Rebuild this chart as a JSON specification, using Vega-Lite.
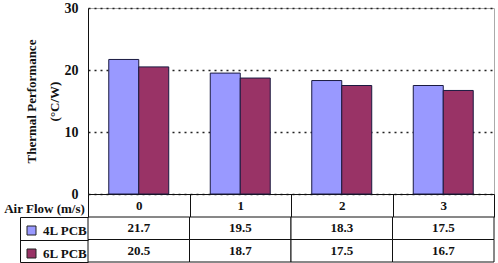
{
  "$schema": "https://vega.github.io/schema/vega-lite/v6.json",
  "autosize": {"type": "pad"},
  "padding": {"left": 3, "top": 0, "right": 3, "bottom": 1},
  "background": "white",
  "bounds": "flush",
  "spacing": 23,
  "config": {
    "font": "Liberation Serif",
    "view": {"stroke": null},
    "axis": {"labelFont": "Liberation Serif", "titleFont": "Liberation Serif", "labelFontWeight": "bold", "titleFontWeight": "bold", "labelColor": "#111", "titleColor": "#111"},
    "legend": {"labelFont": "Liberation Serif", "labelFontWeight": "bold"}
  },
  "datasets": {
    "thermal": [
      {"flow": "0", "pcb": "4L PCB", "value": 21.7},
      {"flow": "1", "pcb": "4L PCB", "value": 19.5},
      {"flow": "2", "pcb": "4L PCB", "value": 18.3},
      {"flow": "3", "pcb": "4L PCB", "value": 17.5},
      {"flow": "0", "pcb": "6L PCB", "value": 20.5},
      {"flow": "1", "pcb": "6L PCB", "value": 18.7},
      {"flow": "2", "pcb": "6L PCB", "value": 17.5},
      {"flow": "3", "pcb": "6L PCB", "value": 16.7}
    ]
  },
  "vconcat": [
    {
      "width": 406,
      "height": 186,
      "data": {"name": "thermal"},
      "view": {"stroke": "#aaa"},
      "mark": {"type": "bar", "stroke": "#1a1a40", "strokeWidth": 1},
      "encoding": {
        "x": {
          "field": "flow", "type": "nominal",
          "scale": {"paddingInner": 0, "paddingOuter": 0},
          "axis": {"title": "Air Flow (m/s)", "labelAngle": 0, "labelFontSize": 13, "labelPadding": -18, "domainColor": "#111", "tickColor": "#111", "tickBand": "extent", "tickSize": 23, "titleFontSize": 13, "titleX": -44, "titleY": 14, "titleAlign": "center", "titleBaseline": "middle", "titleAngle": 0}
        },
        "xOffset": {"field": "pcb", "type": "nominal", "scale": {"paddingInner": 0, "paddingOuter": 0.692}},
        "y": {
          "field": "value", "type": "quantitative",
          "scale": {"domain": [0, 30], "nice": false},
          "axis": {"title": ["Thermal Performance", "(°C/W)"], "values": [0, 10, 20, 30], "labelFontSize": 14, "ticks": false, "labelPadding": 10, "domainColor": "#111", "grid": true, "gridColor": "#222", "gridDash": [2, 4], "gridWidth": 1.5, "titleFontSize": 13, "titleLineHeight": 23, "titlePadding": 3}
        },
        "color": {
          "field": "pcb", "type": "nominal",
          "scale": {"domain": ["4L PCB", "6L PCB"], "range": ["#9999ff", "#993366"]},
          "legend": {"title": null, "orient": "none", "legendX": -63, "legendY": 216, "symbolType": "square", "symbolSize": 81, "symbolStrokeColor": "#222", "symbolStrokeWidth": 1, "symbolOpacity": 1, "labelFont": "Liberation Serif", "labelFontWeight": "bold", "labelFontSize": 13, "labelColor": "#111", "labelOffset": 5, "rowPadding": 9, "padding": 0}
        }
      }
    },
    {
      "width": 406,
      "height": 45,
      "data": {"name": "thermal"},
      "encoding": {
        "x": {"field": "flow", "type": "nominal", "scale": {"paddingInner": 0, "paddingOuter": 0}, "axis": null}
      },
      "layer": [
        {
          "mark": {"type": "rect", "fill": "white", "stroke": "#111", "strokeWidth": 1},
          "encoding": {
            "y": {"field": "pcb", "type": "nominal", "scale": {"domain": ["4L PCB", "6L PCB"], "paddingInner": 0, "paddingOuter": 0},
                  "axis": {"title": null, "labels": false, "domain": false, "ticks": true, "tickBand": "extent", "tickSize": 68, "tickColor": "#111"}}
          }
        },
        {
          "mark": {"type": "text", "fontWeight": "bold", "fontSize": 13, "font": "Liberation Serif", "color": "#111"},
          "encoding": {
            "y": {"field": "pcb", "type": "nominal", "scale": {"domain": ["4L PCB", "6L PCB"], "paddingInner": 0, "paddingOuter": 0},
                  "axis": {"title": null, "orient": "left", "offset": 68, "labels": false, "ticks": false, "domain": true, "domainColor": "#111"}},
            "text": {"field": "value", "type": "quantitative", "format": ".1f"}
          }
        }
      ],
      "resolve": {"scale": {"y": "independent"}, "axis": {"y": "independent"}}
    }
  ]
}
